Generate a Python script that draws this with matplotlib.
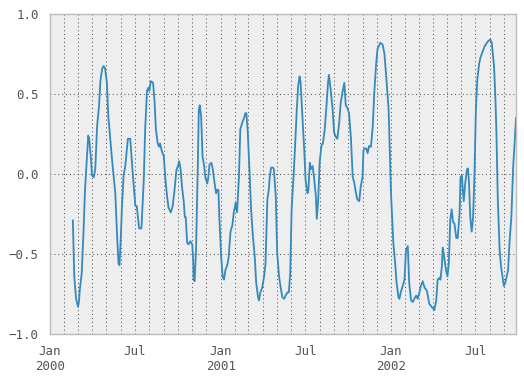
import numpy as np
import pandas as pd
import matplotlib
matplotlib.use('Agg')
import matplotlib.pyplot as plt
import matplotlib.dates as mdates

# rolling correlation
# day_num = days since 2000-01-01 (series runs 1000 days)
start = '2000-01-01'
n_days = 1000
day_num = [
    49, 52, 56, 60, 62, 64, 68, 72, 75, 79, 82, 84, 88, 90, 94, 97, 101, 105, 108, 112,
    115, 118, 122, 125, 133, 140, 144, 147, 149, 152, 154, 158, 161, 167, 172, 178, 183, 186, 191, 196,
    201, 204, 208, 211, 213, 216, 221, 224, 227, 231, 234, 236, 240, 244, 247, 251, 254, 259, 263, 267,
    271, 275, 277, 280, 283, 287, 289, 291, 294, 297, 301, 305, 307, 308, 310, 313, 317, 319, 321, 324,
    327, 330, 333, 337, 339, 342, 346, 349, 353, 356, 358, 361, 363, 367, 370, 373, 376, 380, 383, 387,
    391, 394, 398, 401, 405, 408, 412, 416, 419, 421, 424, 428, 431, 435, 439, 442, 446, 448, 451, 455,
    459, 462, 466, 469, 471, 474, 478, 480, 484, 487, 491, 494, 498, 502, 505, 509, 512, 515, 518, 522,
    525, 529, 532, 535, 537, 541, 545, 548, 552, 554, 557, 559, 563, 566, 570, 572, 575, 578, 582, 585,
    589, 593, 596, 598, 602, 606, 609, 613, 616, 620, 623, 627, 631, 634, 638, 641, 645, 649, 652, 656,
    659, 663, 666, 670, 672, 675, 678, 681, 684, 688, 692, 695, 699, 702, 708, 713, 717, 721, 726, 729,
    731, 733, 736, 740, 743, 747, 749, 752, 756, 760, 763, 767, 770, 774, 778, 781, 785, 788, 792, 795,
    799, 803, 808, 813, 818, 824, 828, 831, 835, 837, 840, 842, 846, 849, 852, 855, 858, 861, 864, 867,
    871, 874, 878, 880, 883, 885, 887, 890, 894, 896, 898, 901, 904, 907, 910, 913, 916, 920, 923, 928,
    932, 939, 944, 947, 952, 955, 957, 960, 964, 967, 971, 973, 976, 979, 982, 985, 989, 993, 996, 999,
]
corr = [
    -0.29, -0.64, -0.78, -0.83, -0.80, -0.72, -0.62, -0.35, -0.10, 0.09, 0.24, 0.22, 0.09, -0.01, -0.02, 0.03, 0.30, 0.42, 0.58, 0.66,
    0.675, 0.66, 0.57, 0.36, 0.09, -0.12, -0.40, -0.56, -0.57, -0.38, -0.22, 0.00, 0.04, 0.22, 0.22, -0.02, -0.20, -0.20, -0.34, -0.34,
    -0.04, 0.28, 0.52, 0.54, 0.52, 0.58, 0.57, 0.46, 0.28, 0.19, 0.17, 0.19, 0.14, 0.11, -0.02, -0.14, -0.21, -0.24, -0.20, -0.10,
    0.025, 0.056, 0.08, 0.03, -0.08, -0.18, -0.27, -0.27, -0.43, -0.44, -0.42, -0.44, -0.54, -0.66, -0.67, -0.48, 0.07, 0.40, 0.43, 0.36,
    0.11, 0.06, -0.02, -0.06, -0.03, 0.06, 0.07, 0.03, -0.06, -0.12, -0.10, -0.10, -0.27, -0.52, -0.64, -0.66, -0.60, -0.57, -0.52, -0.36,
    -0.32, -0.24, -0.18, -0.24, -0.02, 0.28, 0.32, 0.35, 0.38, 0.38, 0.26, 0.00, -0.22, -0.39, -0.52, -0.68, -0.77, -0.79, -0.74, -0.71,
    -0.64, -0.56, -0.16, -0.10, -0.02, 0.04, 0.04, 0.03, -0.14, -0.49, -0.64, -0.70, -0.77, -0.78, -0.76, -0.74, -0.74, -0.62, -0.22, -0.02,
    0.15, 0.40, 0.55, 0.61, 0.58, 0.36, 0.15, -0.04, -0.12, -0.10, 0.07, 0.03, 0.05, -0.02, -0.14, -0.28, -0.16, 0.07, 0.18, 0.19,
    0.28, 0.44, 0.57, 0.62, 0.52, 0.40, 0.26, 0.23, 0.22, 0.32, 0.44, 0.51, 0.57, 0.43, 0.41, 0.38, 0.23, -0.02, -0.05, -0.12,
    -0.16, -0.17, -0.08, -0.02, 0.15, 0.16, 0.16, 0.13, 0.175, 0.17, 0.30, 0.50, 0.68, 0.78, 0.82, 0.81, 0.75, 0.60, 0.40, 0.09,
    -0.12, -0.24, -0.43, -0.56, -0.68, -0.77, -0.78, -0.74, -0.70, -0.66, -0.48, -0.45, -0.68, -0.79, -0.80, -0.78, -0.76, -0.78, -0.74, -0.70,
    -0.67, -0.71, -0.73, -0.81, -0.83, -0.85, -0.79, -0.66, -0.65, -0.66, -0.58, -0.46, -0.54, -0.60, -0.64, -0.56, -0.29, -0.22, -0.30, -0.31,
    -0.40, -0.40, -0.25, -0.02, -0.01, -0.10, -0.17, -0.06, 0.03, 0.035, -0.04, -0.27, -0.36, -0.27, 0.00, 0.40, 0.59, 0.69, 0.73, 0.77,
    0.80, 0.83, 0.84, 0.82, 0.67, 0.46, 0.26, -0.16, -0.48, -0.58, -0.66, -0.70, -0.68, -0.64, -0.60, -0.43, -0.27, 0.05, 0.19, 0.35,
]
y_ticks = [-1.0, -0.5, 0.0, 0.5, 1.0]

t0 = pd.Timestamp(start)
dates = t0 + pd.to_timedelta(day_num, unit='D')
t_end = t0 + pd.Timedelta(days=n_days - 1)

plt.rcParams['font.family'] = 'DejaVu Sans Mono'

fig = plt.figure(figsize=(5.24, 3.76), dpi=100)
ax = fig.add_axes([50 / 524, 1 - 334 / 376, 466 / 524, 320 / 376])
ax.set_facecolor('#eeeeee')
for s in ax.spines.values():
    s.set_color('#bcbcbc')
    s.set_linewidth(1.0)

ax.plot(dates, corr, color='#348abd', lw=1.3)

ax.set_xlim(t0, t_end)
ax.set_ylim(-1, 1)
ax.set_yticks(y_ticks)

ax.xaxis.set_major_locator(mdates.MonthLocator(bymonth=[1, 7]))
ax.xaxis.set_minor_locator(mdates.MonthLocator())

def fmt(x, pos):
    d = mdates.num2date(x)
    if d.month == 1:
        return d.strftime('%b\n%Y')
    return d.strftime('%b')

ax.xaxis.set_major_formatter(plt.FuncFormatter(fmt))
ax.xaxis.set_minor_formatter(plt.NullFormatter())

ax.tick_params(which='both', length=0, labelsize=9, labelcolor='#555555')
ax.tick_params(axis='x', pad=8)
ax.tick_params(axis='y', pad=8)

# sparse dotted grid, months on x
grid_ls = (0, (1, 3))
ax.grid(True, which='major', color='#444444', ls=grid_ls, lw=0.7)
ax.grid(True, which='minor', axis='x', color='#444444', ls=grid_ls, lw=0.7)
ax.set_axisbelow(True)

fig.savefig('out.png', dpi=100)
